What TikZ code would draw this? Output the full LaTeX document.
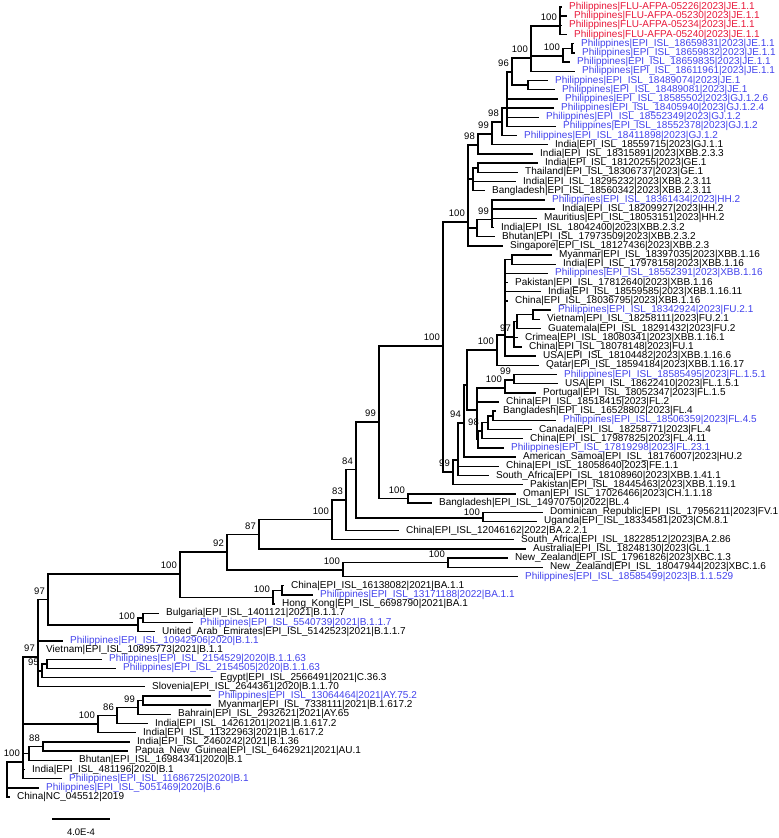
\documentclass[tikz,border=0pt]{standalone}
\usepackage{fontspec}
\setmainfont{Liberation Sans}
\definecolor{pred}{RGB}{232,24,58}
\definecolor{pblue}{RGB}{66,66,236}
\tikzset{
  br/.style={line width=1.4pt},
  lab/.style={font=\fontsize{10}{12}\selectfont, inner sep=0pt, anchor=west},
  bs/.style={font=\fontsize{9.5}{11}\selectfont, inner sep=0pt, anchor=south east, xshift=-3pt, yshift=5pt}
}
\newcommand\inn[3]{\coordinate (#1) at (#2,#3);}
\newcommand\bsl[2]{\node[bs] (#1-bs) at (#1) {#2};}
\newcommand\ed[2]{\draw[br] (#1) |- (#2);}
\newcommand\lf[6]{\coordinate (#1) at (#3,{7+9.186*(#2-1)});\draw[br] (#4) |- (#1);\node[lab,text=#6] (#1-t) at ([xshift=7pt]#1) {#5};}
\begin{document}
\begin{tikzpicture}[x=1pt,y=-1pt]
\useasboundingbox (0,0) rectangle (779,838);
% internal nodes
\inn{R}{7}{780}
\inn{X}{23}{762}
\inn{N97b}{38}{657}
\inn{N97a}{48}{599.5}
\inn{A2}{42}{671}
\inn{A1}{47}{664}
\inn{Ndelta}{98}{724}
\inn{N86}{117}{715.5}
\inn{N99d}{138}{707.4}
\inn{N7677}{143}{700.5}
\inn{N29}{29}{753.5}
\inn{N88}{43}{746.5}
\inn{Nbul}{138}{625}
\inn{N6768}{143}{618}
\inn{N100a}{180}{574}
\inn{NBA1}{273}{597.3}
\inn{N6465}{282}{590.4}
\inn{N92}{227}{552}
\inn{N100e}{343}{570}
\inn{N100nz}{448}{562.7}
\inn{N87}{259}{534.5}
\inn{N100d}{332}{519.5}
\inn{N83}{346}{500}
\inn{N84}{356}{469.5}
\inn{N100f}{483}{518}
\inn{N99}{379}{422}
\inn{N100om}{408}{498.4}
\inn{N100top}{443}{346}
\inn{N99b}{453}{472}
\inn{N458}{458}{460}
\inn{N94}{464}{423}
\inn{N467}{467}{385}
\inn{N100u}{497}{350}
\inn{N505}{505}{335}
\inn{N2829}{512}{259.6}
\inn{N97u}{514}{337}
\inn{N517}{517}{321.6}
\inn{N3435}{533}{314.7}
\inn{N477}{477}{410}
\inn{N100fl}{505}{388}
\inn{N99fl}{514}{380}
\inn{N478}{478}{439.3}
\inn{N482}{482}{431}
\inn{N488}{488}{422.7}
\inn{N493}{493}{415.8}
\inn{N100c}{468}{222}
\inn{N98b}{478}{145}
\inn{N99a}{492}{134}
\inn{N98a}{502}{122}
\inn{N507}{507}{108}
\inn{N96}{512}{72}
\inn{N531}{531}{58}
\inn{Nred}{560}{26}
\inn{N57}{563}{56}
\inn{N56}{572}{48.3}
\inn{NJE}{528}{85.1}
\inn{N473}{473}{179}
\inn{N1819}{478}{167.8}
\inn{N477hh}{477}{228}
\inn{N99hh}{492}{219.5}
% internal edges
\ed{R}{X}
\ed{X}{N97b}\ed{X}{Ndelta}\ed{X}{N29}
\ed{N29}{N88}
\ed{N97b}{N97a}\ed{N97b}{A2}\ed{A2}{A1}
\ed{Ndelta}{N86}\ed{N86}{N99d}\ed{N99d}{N7677}
\ed{N97a}{N100a}\ed{N97a}{Nbul}\ed{Nbul}{N6768}
\ed{N100a}{N92}\ed{N100a}{NBA1}\ed{NBA1}{N6465}
\ed{N92}{N87}\ed{N92}{N100e}\ed{N100e}{N100nz}
\ed{N87}{N100d}\ed{N100d}{N83}\ed{N83}{N84}\ed{N84}{N99}\ed{N84}{N100f}
\ed{N99}{N100top}\ed{N99}{N100om}
\ed{N100top}{N100c}\ed{N100top}{N99b}
\ed{N99b}{N458}\ed{N458}{N94}\ed{N94}{N467}\ed{N467}{N100u}\ed{N467}{N477}
\ed{N100u}{N505}\ed{N505}{N2829}\ed{N505}{N97u}\ed{N97u}{N517}\ed{N517}{N3435}
\ed{N477}{N100fl}\ed{N100fl}{N99fl}\ed{N477}{N478}\ed{N478}{N482}\ed{N482}{N488}\ed{N488}{N493}
\ed{N100c}{N98b}\ed{N98b}{N99a}\ed{N99a}{N98a}\ed{N98a}{N507}\ed{N507}{N96}\ed{N96}{N531}\ed{N96}{NJE}
\ed{N531}{Nred}\ed{N531}{N57}\ed{N57}{N56}
\ed{N100c}{N473}\ed{N473}{N1819}\ed{N100c}{N477hh}\ed{N477hh}{N99hh}
% leaves
\lf{L1}{1}{562}{Nred}{Philippines|FLU-AFPA-05226|2023|JE.1.1}{pred}
\lf{L2}{2}{567}{Nred}{Philippines|FLU-AFPA-05230|2023|JE.1.1}{pred}
\lf{L3}{3}{562}{Nred}{Philippines|FLU-AFPA-05234|2023|JE.1.1}{pred}
\lf{L4}{4}{567}{Nred}{Philippines|FLU-AFPA-05240|2023|JE.1.1}{pred}
\lf{L5}{5}{574}{N56}{Philippines|EPI\_ISL\_18659831|2023|JE.1.1}{pblue}
\lf{L6}{6}{575}{N56}{Philippines|EPI\_ISL\_18659832|2023|JE.1.1}{pblue}
\lf{L7}{7}{570}{N57}{Philippines|EPI\_ISL\_18659835|2023|JE.1.1}{pblue}
\lf{L8}{8}{575}{N531}{Philippines|EPI\_ISL\_18611961|2023|JE.1.1}{pblue}
\lf{L9}{9}{548}{NJE}{Philippines|EPI\_ISL\_18489074|2023|JE.1}{pblue}
\lf{L10}{10}{555}{NJE}{Philippines|EPI\_ISL\_18489081|2023|JE.1}{pblue}
\lf{L11}{11}{558}{N507}{Philippines|EPI\_ISL\_18585502|2023|GJ.1.2.6}{pblue}
\lf{L12}{12}{554}{N507}{Philippines|EPI\_ISL\_18405940|2023|GJ.1.2.4}{pblue}
\lf{L13}{13}{539}{N507}{Philippines|EPI\_ISL\_18552349|2023|GJ.1.2}{pblue}
\lf{L14}{14}{556}{N507}{Philippines|EPI\_ISL\_18552378|2023|GJ.1.2}{pblue}
\lf{L15}{15}{517}{N98a}{Philippines|EPI\_ISL\_18411898|2023|GJ.1.2}{pblue}
\lf{L16}{16}{548}{N99a}{India|EPI\_ISL\_18559715|2023|GJ.1.1}{black}
\lf{L17}{17}{533}{N98b}{India|EPI\_ISL\_18315891|2023|XBB.2.3.3}{black}
\lf{L18}{18}{538}{N1819}{India|EPI\_ISL\_18120255|2023|GE.1}{black}
\lf{L19}{19}{518}{N1819}{Thailand|EPI\_ISL\_18306737|2023|GE.1}{black}
\lf{L20}{20}{516}{N473}{India|EPI\_ISL\_18295232|2023|XBB.2.3.11}{black}
\lf{L21}{21}{485}{N473}{Bangladesh|EPI\_ISL\_18560342|2023|XBB.2.3.11}{black}
\lf{L22}{22}{545}{N99hh}{Philippines|EPI\_ISL\_18361434|2023|HH.2}{pblue}
\lf{L23}{23}{555}{N99hh}{India|EPI\_ISL\_18209927|2023|HH.2}{black}
\lf{L24}{24}{537}{N99hh}{Mauritius|EPI\_ISL\_18053151|2023|HH.2}{black}
\lf{L25}{25}{494}{N99hh}{India|EPI\_ISL\_18042400|2023|XBB.2.3.2}{black}
\lf{L26}{26}{495}{N477hh}{Bhutan|EPI\_ISL\_17973509|2023|XBB.2.3.2}{black}
\lf{L27}{27}{503}{N100c}{Singapore|EPI\_ISL\_18127436|2023|XBB.2.3}{black}
\lf{L28}{28}{552}{N2829}{Myanmar|EPI\_ISL\_18397035|2023|XBB.1.16}{black}
\lf{L29}{29}{556}{N2829}{India|EPI\_ISL\_17978158|2023|XBB.1.16}{black}
\lf{L30}{30}{548}{N505}{Philippines|EPI\_ISL\_18552391|2023|XBB.1.16}{pblue}
\lf{L31}{31}{508}{N505}{Pakistan|EPI\_ISL\_17812640|2023|XBB.1.16}{black}
\lf{L32}{32}{541}{N505}{India|EPI\_ISL\_18559585|2023|XBB.1.16.11}{black}
\lf{L33}{33}{508}{N505}{China|EPI\_ISL\_18036795|2023|XBB.1.16}{black}
\lf{L34}{34}{551}{N3435}{Philippines|EPI\_ISL\_18342924|2023|FU.2.1}{pblue}
\lf{L35}{35}{540}{N3435}{Vietnam|EPI\_ISL\_18258111|2023|FU.2.1}{black}
\lf{L36}{36}{541}{N517}{Guatemala|EPI\_ISL\_18291432|2023|FU.2}{black}
\lf{L37}{37}{518}{N97u}{Crimea|EPI\_ISL\_18080341|2023|XBB.1.16.1}{black}
\lf{L38}{38}{522}{N97u}{China|EPI\_ISL\_18078148|2023|FU.1}{black}
\lf{L39}{39}{536}{N505}{USA|EPI\_ISL\_18104482|2023|XBB.1.16.6}{black}
\lf{L40}{40}{539}{N100u}{Qatar|EPI\_ISL\_18594184|2023|XBB.1.16.17}{black}
\lf{L41}{41}{557}{N99fl}{Philippines|EPI\_ISL\_18585495|2023|FL.1.5.1}{pblue}
\lf{L42}{42}{558}{N99fl}{USA|EPI\_ISL\_18622410|2023|FL.1.5.1}{black}
\lf{L43}{43}{536}{N100fl}{Portugal|EPI\_ISL\_18052347|2023|FL.1.5}{black}
\lf{L44}{44}{499}{N477}{China|EPI\_ISL\_18518415|2023|FL.2}{black}
\lf{L45}{45}{496}{N493}{Bangladesh|EPI\_ISL\_16528802|2023|FL.4}{black}
\lf{L46}{46}{556}{N493}{Philippines|EPI\_ISL\_18506359|2023|FL.4.5}{pblue}
\lf{L47}{47}{532}{N488}{Canada|EPI\_ISL\_18258771|2023|FL.4}{black}
\lf{L48}{48}{523}{N482}{China|EPI\_ISL\_17987825|2023|FL.4.11}{black}
\lf{L49}{49}{504}{N478}{Philippines|EPI\_ISL\_17819298|2023|FL.23.1}{pblue}
\lf{L50}{50}{516}{N94}{American\_Samoa|EPI\_ISL\_18176007|2023|HU.2}{black}
\lf{L51}{51}{499}{N458}{China|EPI\_ISL\_18058640|2023|FE.1.1}{black}
\lf{L52}{52}{489}{N458}{South\_Africa|EPI\_ISL\_18108960|2023|XBB.1.41.1}{black}
\lf{L53}{53}{523}{N99b}{Pakistan|EPI\_ISL\_18445463|2023|XBB.1.19.1}{black}
\lf{L54}{54}{516}{N100om}{Oman|EPI\_ISL\_17026466|2023|CH.1.1.18}{black}
\lf{L55}{55}{432}{N100om}{Bangladesh|EPI\_ISL\_14970750|2022|BL.4}{black}
\lf{L56}{56}{543}{N100f}{Dominican\_Republic|EPI\_ISL\_17956211|2023|FV.1}{black}
\lf{L57}{57}{537}{N100f}{Uganda|EPI\_ISL\_18334581|2023|CM.8.1}{black}
\lf{L58}{58}{399}{N83}{China|EPI\_ISL\_12046162|2022|BA.2.2.1}{black}
\lf{L59}{59}{514}{N100d}{South\_Africa|EPI\_ISL\_18228512|2023|BA.2.86}{black}
\lf{L60}{60}{526}{N87}{Australia|EPI\_ISL\_18248130|2023|GL.1}{black}
\lf{L61}{61}{508}{N100nz}{New\_Zealand|EPI\_ISL\_17961826|2023|XBC.1.3}{black}
\lf{L62}{62}{543}{N100nz}{New\_Zealand|EPI\_ISL\_18047944|2023|XBC.1.6}{black}
\lf{L63}{63}{518}{N100e}{Philippines|EPI\_ISL\_18585499|2023|B.1.1.529}{pblue}
\lf{L64}{64}{284}{N6465}{China|EPI\_ISL\_16138082|2021|BA.1.1}{black}
\lf{L65}{65}{313}{N6465}{Philippines|EPI\_ISL\_13171188|2022|BA.1.1}{pblue}
\lf{L66}{66}{275}{NBA1}{Hong\_Kong|EPI\_ISL\_6698790|2021|BA.1}{black}
\lf{L67}{67}{159}{N6768}{Bulgaria|EPI\_ISL\_1401121|2021|B.1.1.7}{black}
\lf{L68}{68}{193}{N6768}{Philippines|EPI\_ISL\_5540739|2021|B.1.1.7}{pblue}
\lf{L69}{69}{155}{Nbul}{United\_Arab\_Emirates|EPI\_ISL\_5142523|2021|B.1.1.7}{black}
\lf{L70}{70}{63}{N97b}{Philippines|EPI\_ISL\_10942906|2020|B.1.1}{pblue}
\lf{L71}{71}{39}{N97b}{Vietnam|EPI\_ISL\_10895773|2021|B.1.1}{black}
\lf{L72}{72}{102}{A1}{Philippines|EPI\_ISL\_2154529|2020|B.1.1.63}{pblue}
\lf{L73}{73}{116}{A1}{Philippines|EPI\_ISL\_2154505|2020|B.1.1.63}{pblue}
\lf{L74}{74}{213}{A2}{Egypt|EPI\_ISL\_2566491|2021|C.36.3}{black}
\lf{L75}{75}{145}{N97b}{Slovenia|EPI\_ISL\_2644361|2020|B.1.1.70}{black}
\lf{L76}{76}{211}{N7677}{Philippines|EPI\_ISL\_13064464|2021|AY.75.2}{pblue}
\lf{L77}{77}{211}{N7677}{Myanmar|EPI\_ISL\_7338111|2021|B.1.617.2}{black}
\lf{L78}{78}{171}{N99d}{Bahrain|EPI\_ISL\_2932621|2021|AY.65}{black}
\lf{L79}{79}{148}{N86}{India|EPI\_ISL\_14261201|2021|B.1.617.2}{black}
\lf{L80}{80}{136}{Ndelta}{India|EPI\_ISL\_11322963|2021|B.1.617.2}{black}
\lf{L81}{81}{130}{N88}{India|EPI\_ISL\_2460242|2021|B.1.36}{black}
\lf{L82}{82}{128}{N88}{Papua\_New\_Guinea|EPI\_ISL\_6462921|2021|AU.1}{black}
\lf{L83}{83}{72}{N29}{Bhutan|EPI\_ISL\_16984341|2020|B.1}{black}
\lf{L84}{84}{25}{X}{India|EPI\_ISL\_481196|2020|B.1}{black}
\lf{L85}{85}{62}{X}{Philippines|EPI\_ISL\_11686725|2020|B.1}{pblue}
\lf{L86}{86}{39}{R}{Philippines|EPI\_ISL\_5051469|2020|B.6}{pblue}
\lf{L87}{87}{10}{R}{China|NC\_045512|2019}{black}
% bootstrap labels
\bsl{X}{100}\bsl{N97b}{97}\bsl{N97a}{97}\bsl{A2}{95}\bsl{Ndelta}{100}\bsl{N86}{86}
\bsl{N99d}{99}\bsl{N88}{88}\bsl{Nbul}{100}\bsl{N100a}{100}\bsl{NBA1}{100}\bsl{N92}{92}
\bsl{N100e}{100}\bsl{N100nz}{100}\bsl{N87}{87}\bsl{N100d}{100}\bsl{N83}{83}\bsl{N84}{84}
\node[bs,yshift=-2.5pt] (N100f-bs) at (N100f) {100};
\bsl{N99}{99}\bsl{N100om}{100}\bsl{N100top}{100}\bsl{N99b}{99}\bsl{N94}{94}
\bsl{N100u}{100}\bsl{N97u}{97}\bsl{N100fl}{100}\bsl{N99fl}{99}\bsl{N482}{98}\bsl{N100c}{100}
\bsl{N98b}{98}\bsl{N99a}{99}\bsl{N98a}{98}\bsl{N96}{96}\bsl{N531}{100}\bsl{Nred}{100}
\bsl{N57}{100}\bsl{N99hh}{99}
% scale bar
\coordinate (sbl) at (52,819);
\coordinate (sbr) at (110,819);
\draw[br] (sbl) -- (sbr);
\node[font=\fontsize{9.5}{11}\selectfont, inner sep=0pt] (sbt) at (81,832) {4.0E-4};
\end{tikzpicture}
\end{document}
